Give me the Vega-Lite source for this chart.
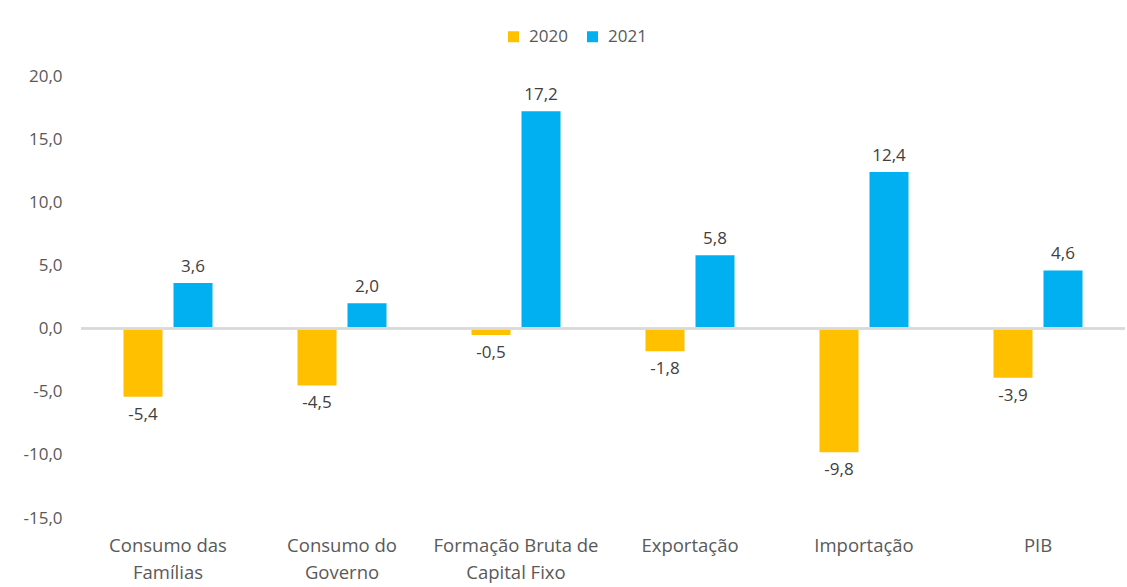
{
  "$schema": "https://vega.github.io/schema/vega-lite/v6.json",
  "autosize": {"type": "none"},
  "width": 1044,
  "height": 442,
  "padding": {"left": 81, "top": 76, "right": 2, "bottom": 69},
  "background": "white",
  "config": {
    "view": {"stroke": null},
    "font": "Open Sans",
    "locale": {"number": {"decimal": ",", "thousands": ".", "grouping": [3], "currency": ["R$", ""], "minus": "-"}}
  },
  "data": {
    "values": [
      {"categoria": "Consumo das Famílias", "ano": "2020", "valor": -5.4},
      {"categoria": "Consumo das Famílias", "ano": "2021", "valor": 3.6},
      {"categoria": "Consumo do Governo", "ano": "2020", "valor": -4.5},
      {"categoria": "Consumo do Governo", "ano": "2021", "valor": 2.0},
      {"categoria": "Formação Bruta de Capital Fixo", "ano": "2020", "valor": -0.5},
      {"categoria": "Formação Bruta de Capital Fixo", "ano": "2021", "valor": 17.2},
      {"categoria": "Exportação", "ano": "2020", "valor": -1.8},
      {"categoria": "Exportação", "ano": "2021", "valor": 5.8},
      {"categoria": "Importação", "ano": "2020", "valor": -9.8},
      {"categoria": "Importação", "ano": "2021", "valor": 12.4},
      {"categoria": "PIB", "ano": "2020", "valor": -3.9},
      {"categoria": "PIB", "ano": "2021", "valor": 4.6}
    ]
  },
  "encoding": {
    "x": {
      "field": "categoria",
      "type": "nominal",
      "sort": null,
      "scale": {"paddingInner": 0, "paddingOuter": 0},
      "axis": {
        "title": null,
        "domain": false,
        "ticks": false,
        "labelAngle": 0,
        "labelFontSize": 18.5,
        "labelColor": "#595959",
        "labelPadding": 27,
        "labelLineHeight": 27,
        "labelBaseline": "middle",
        "labelExpr": "datum.value == 'Consumo das Famílias' ? ['Consumo das', 'Famílias'] : datum.value == 'Consumo do Governo' ? ['Consumo do', 'Governo'] : datum.value == 'Formação Bruta de Capital Fixo' ? ['Formação Bruta de', 'Capital Fixo'] : datum.value"
      }
    }
  },
  "layer": [
    {
      "mark": {"type": "bar"},
      "encoding": {
        "xOffset": {"field": "ano", "type": "nominal", "scale": {"paddingInner": 0.22, "paddingOuter": 0.85}},
        "y": {
          "field": "valor",
          "type": "quantitative",
          "scale": {"domain": [-15, 20], "nice": false, "zero": false},
          "axis": {
            "title": null,
            "values": [-15, -10, -5, 0, 5, 10, 15, 20],
            "format": ".1f",
            "domain": false,
            "ticks": false,
            "grid": false,
            "labelFontSize": 17,
            "labelColor": "#595959",
            "labelPadding": 19
          }
        },
        "color": {
          "field": "ano",
          "type": "nominal",
          "scale": {"domain": ["2020", "2021"], "range": ["#FFC000", "#00B0F0"]},
          "legend": {
            "title": null,
            "orient": "none",
            "legendX": 424,
            "legendY": -48,
            "direction": "horizontal",
            "symbolType": "square",
            "symbolSize": 121,
            "symbolStrokeWidth": 0,
            "labelFontSize": 17,
            "labelColor": "#595959",
            "labelOffset": 7,
            "columnPadding": 16
          }
        }
      }
    },
    {
      "mark": {"type": "rule", "color": "#D9D9D9", "strokeWidth": 1.5},
      "encoding": {"y": {"datum": 0, "type": "quantitative"}, "x": null}
    },
    {
      "transform": [{"filter": "datum.valor >= 0"}],
      "mark": {"type": "text", "baseline": "bottom", "dy": -7, "fontSize": 17, "color": "#404040"},
      "encoding": {
        "xOffset": {"field": "ano", "type": "nominal", "scale": {"paddingInner": 0.22, "paddingOuter": 0.85}},
        "y": {"field": "valor", "type": "quantitative"},
        "text": {"field": "valor", "type": "quantitative", "format": ".1f"}
      }
    },
    {
      "transform": [{"filter": "datum.valor < 0"}],
      "mark": {"type": "text", "baseline": "top", "dy": 10, "fontSize": 17, "color": "#404040"},
      "encoding": {
        "xOffset": {"field": "ano", "type": "nominal", "scale": {"paddingInner": 0.22, "paddingOuter": 0.85}},
        "y": {"field": "valor", "type": "quantitative"},
        "text": {"field": "valor", "type": "quantitative", "format": ".1f"}
      }
    }
  ]
}
